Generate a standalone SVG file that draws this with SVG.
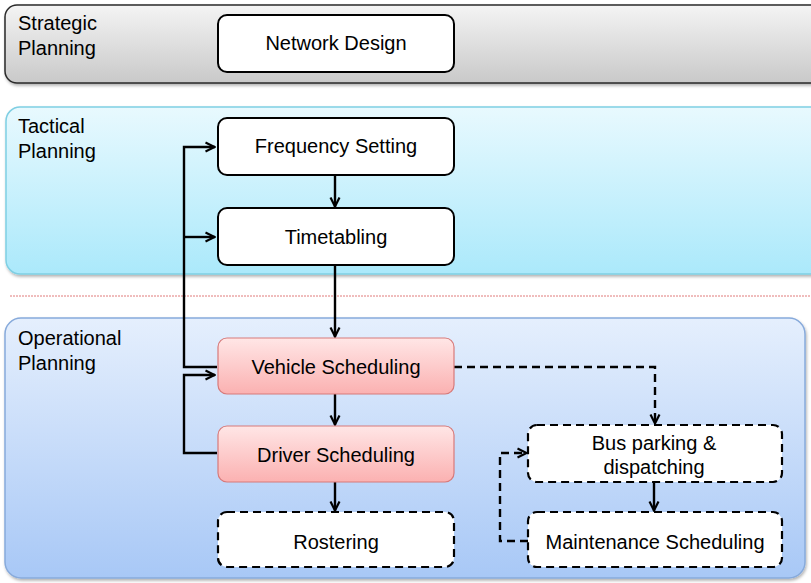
<svg xmlns="http://www.w3.org/2000/svg" width="811" height="583" viewBox="0 0 811 583">
<defs>
<linearGradient id="gStrat" x1="0" y1="0" x2="0" y2="1"><stop offset="0" stop-color="#f4f4f4"/><stop offset="1" stop-color="#c9c9c9"/></linearGradient>
<linearGradient id="gTact" x1="0" y1="0" x2="0" y2="1"><stop offset="0" stop-color="#e8f9fe"/><stop offset="1" stop-color="#abe9fb"/></linearGradient>
<linearGradient id="gOper" x1="0" y1="0" x2="0" y2="1"><stop offset="0" stop-color="#e5effd"/><stop offset="1" stop-color="#a8c8f6"/></linearGradient>
<linearGradient id="gRed" x1="0" y1="0" x2="0" y2="1"><stop offset="0" stop-color="#ffe6e6"/><stop offset="1" stop-color="#fbb1b1"/></linearGradient>
<filter id="sh" x="-5%" y="-10%" width="110%" height="130%"><feDropShadow dx="1" dy="2" stdDeviation="1.5" flood-color="#000" flood-opacity="0.3"/></filter>
<marker id="arr" viewBox="0 0 12 12" refX="11" refY="6" markerWidth="12" markerHeight="12" markerUnits="userSpaceOnUse" orient="auto"><path d="M1.5,1.5 L10.5,6 L1.5,10.5" fill="none" stroke="#000" stroke-width="2.2"/></marker>
</defs>
<style>
text{font-family:"Liberation Sans",Arial,sans-serif;font-size:20px;fill:#000}
.lbl{text-anchor:start}
.c{text-anchor:middle}
.node{fill:#fff;stroke:#000;stroke-width:2}
.red{fill:url(#gRed);stroke:#d77a7a;stroke-width:1.2}
.dash{fill:#fff;stroke:#000;stroke-width:2.2;stroke-dasharray:8 5}
.ln{fill:none;stroke:#000;stroke-width:2.4}
.dl{fill:none;stroke:#000;stroke-width:2.4;stroke-dasharray:8 5}
</style>
<g id="bands">
<rect id="strategic-band" x="5" y="5" width="820" height="78" rx="12" fill="url(#gStrat)" stroke="#2a2a2a" stroke-width="1.5" filter="url(#sh)"/>
<text class="lbl" x="18" y="30">Strategic</text>
<text class="lbl" x="18" y="55">Planning</text>
<rect id="tactical-band" x="6" y="107" width="819" height="167" rx="14" fill="url(#gTact)" stroke="#7fcfe3" stroke-width="1.5" filter="url(#sh)"/>
<text class="lbl" x="18" y="133">Tactical</text>
<text class="lbl" x="18" y="158">Planning</text>
<line x1="10" y1="296" x2="811" y2="296" stroke="#e07a7a" stroke-width="1" stroke-dasharray="2 1"/>
<rect id="operational-band" x="5" y="318" width="800" height="260" rx="16" fill="url(#gOper)" stroke="#87aadb" stroke-width="1.5" filter="url(#sh)"/>
<text class="lbl" x="18" y="345">Operational</text>
<text class="lbl" x="18" y="370">Planning</text>
</g>
<g id="connectors">
<line class="ln" x1="335" y1="175" x2="335" y2="207" marker-end="url(#arr)"/>
<line class="ln" x1="335" y1="265" x2="335" y2="337" marker-end="url(#arr)"/>
<path class="ln" d="M217,367 H184 V147 H215" marker-end="url(#arr)"/>
<path class="ln" d="M184,237 H215" marker-end="url(#arr)"/>
<path class="ln" d="M217,453 H184 V375 H215" marker-end="url(#arr)"/>
<line class="ln" x1="335" y1="394" x2="335" y2="425" marker-end="url(#arr)"/>
<line class="ln" x1="335" y1="482" x2="335" y2="511" marker-end="url(#arr)"/>
<path class="dl" d="M454,367 H655 V424" marker-end="url(#arr)"/>
<line class="ln" x1="654" y1="482" x2="654" y2="511" marker-end="url(#arr)"/>
<path class="dl" d="M528,541 H500 V453 H527" marker-end="url(#arr)"/>
</g>
<g id="network-design">
<rect class="node" x="218" y="15" width="236" height="57" rx="9"/>
<text class="c" x="336" y="50">Network Design</text>
</g>
<g id="frequency-setting">
<rect class="node" x="218" y="118" width="236" height="57" rx="9"/>
<text class="c" x="336" y="153">Frequency Setting</text>
</g>
<g id="timetabling">
<rect class="node" x="218" y="208" width="236" height="57" rx="9"/>
<text class="c" x="336" y="244">Timetabling</text>
</g>
<g id="vehicle-scheduling">
<rect class="red" x="218" y="338" width="236" height="56" rx="9"/>
<text class="c" x="336" y="374">Vehicle Scheduling</text>
</g>
<g id="driver-scheduling">
<rect class="red" x="218" y="426" width="236" height="56" rx="9"/>
<text class="c" x="336" y="462">Driver Scheduling</text>
</g>
<g id="rostering">
<rect class="dash" x="218" y="512" width="236" height="55" rx="9"/>
<text class="c" x="336" y="549">Rostering</text>
</g>
<g id="bus-parking">
<rect class="dash" x="528" y="425" width="254" height="57" rx="9"/>
<text class="c" x="654" y="450">Bus parking &amp;</text>
<text class="c" x="654" y="474">dispatching</text>
</g>
<g id="maintenance-scheduling">
<rect class="dash" x="528" y="512" width="254" height="55" rx="9"/>
<text class="c" x="655" y="549">Maintenance Scheduling</text>
</g>
</svg>
